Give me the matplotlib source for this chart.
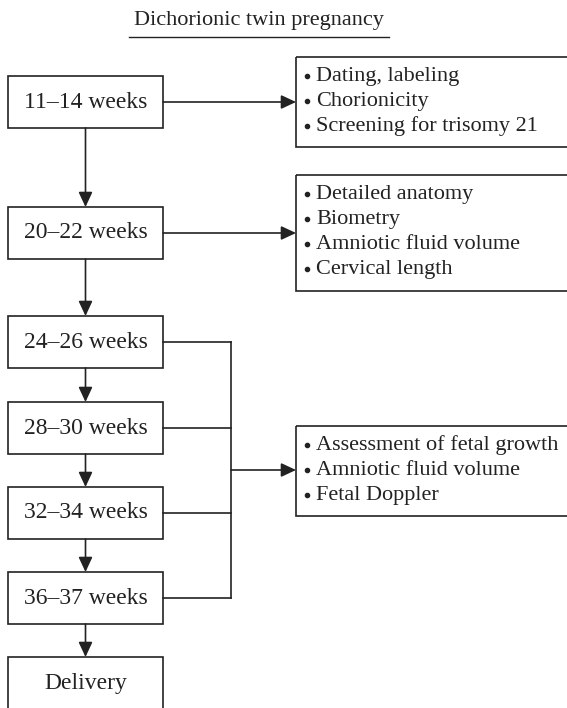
import matplotlib
matplotlib.use("Agg")
import matplotlib.pyplot as plt
from matplotlib.patches import Rectangle

# Flowchart content
title = "Dichorionic twin pregnancy"
stages = ["11–14 weeks", "20–22 weeks", "24–26 weeks", "28–30 weeks",
          "32–34 weeks", "36–37 weeks", "Delivery"]
findings_1114 = ["Dating, labeling", "Chorionicity", "Screening for trisomy 21"]
findings_2022 = ["Detailed anatomy", "Biometry", "Amniotic fluid volume",
                 "Cervical length"]
findings_late = ["Assessment of fetal growth", "Amniotic fluid volume",
                 "Fetal Doppler"]

# layout (pixel units, y downward)
W, H = 567, 708
stage_tops = [76, 207, 316, 402, 487, 572, 657]
box_h = 52
box_x0, box_x1 = 8, 163
box_cx = (box_x0 + box_x1) / 2
join_x = 231
right_x0, right_x1 = 296, 575
right_boxes = [(57, 147, findings_1114), (175, 291, findings_2022), (426, 516, findings_late)]

col = "#222222"
lw = 1.2
font = ["Liberation Serif", "DejaVu Serif"]

fig = plt.figure(figsize=(W / 100, H / 100), dpi=100)
ax = fig.add_axes([0, 0, 1, 1])
ax.set_xlim(0, W)
ax.set_ylim(H, 0)
ax.axis("off")


def arrow(x0, y0, x1, y1):
    ax.annotate("", xy=(x1, y1), xytext=(x0, y0),
                arrowprops=dict(arrowstyle="-|>,head_length=0.9,head_width=0.42",
                                color=col, lw=lw, shrinkA=0, shrinkB=0))


# title with underline
ax.text(259, 21, title, ha="center", va="center", fontsize=16, family=font, color=col)
ax.plot([129, 389], [37, 37], color=col, lw=1.0)

# stage boxes and down arrows
for i, (lab, top) in enumerate(zip(stages, stage_tops)):
    ax.add_patch(Rectangle((box_x0, top), box_x1 - box_x0, box_h,
                           fill=False, ec=col, lw=lw))
    ax.text(box_cx, top + box_h / 2, lab, ha="center", va="center",
            fontsize=17, family=font, color=col)
    if i < len(stages) - 1:
        arrow(box_cx, top + box_h, box_cx, stage_tops[i + 1])

# finding boxes
for top, bottom, items in right_boxes:
    ax.add_patch(Rectangle((right_x0, top), right_x1 - right_x0, bottom - top,
                           fill=False, ec=col, lw=lw))
    for j, it in enumerate(items):
        y = top + 19.5 + 25 * j
        ax.plot(right_x0 + 11, y - 1, "o", ms=3.0, color=col)
        ax.text(right_x0 + 20, y, it, ha="left",
                va="center", fontsize=16, family=font, color=col)

# horizontal arrows from first two stages
for k in range(2):
    yc = stage_tops[k] + box_h / 2
    arrow(box_x1, yc, right_x0, yc)

# join of stages 3-6
mids = [t + box_h / 2 for t in stage_tops[2:6]]
for yc in mids:
    ax.plot([box_x1, join_x], [yc, yc], color=col, lw=lw)
ax.plot([join_x, join_x], [mids[0], mids[-1]], color=col, lw=lw)
arrow(join_x, 470, right_x0, 470)

fig.savefig("out.png", dpi=100)
